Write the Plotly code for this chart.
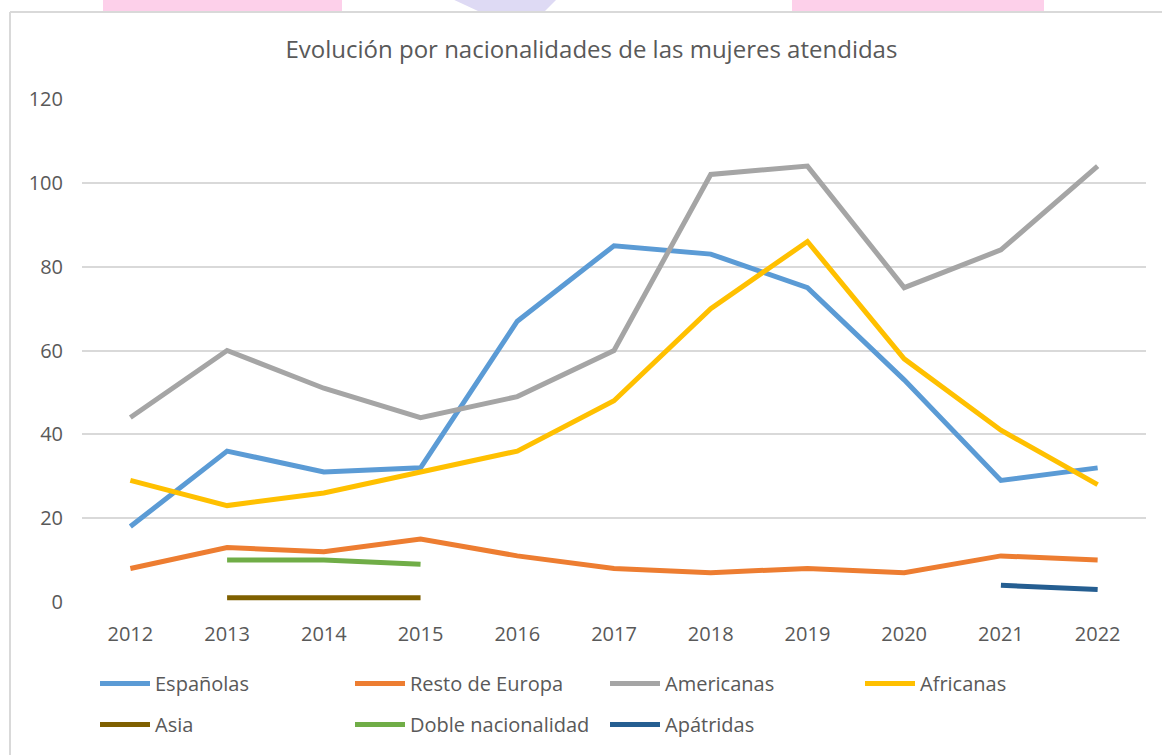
import plotly.graph_objects as go

years = [2012, 2013, 2014, 2015, 2016, 2017, 2018, 2019, 2020, 2021, 2022]
espanolas = [18, 36, 31, 32, 67, 85, 83, 75, 53, 29, 32]
resto_europa = [8, 13, 12, 15, 11, 8, 7, 8, 7, 11, 10]
americanas = [44, 60, 51, 44, 49, 60, 102, 104, 75, 84, 104]
africanas = [29, 23, 26, 31, 36, 48, 70, 86, 58, 41, 28]
asia = [None, 1, 1, 1, None, None, None, None, None, None, None]
doble = [None, 10, 10, 9, None, None, None, None, None, None, None]
apatridas = [None, None, None, None, None, None, None, None, None, 4, 3]

series = [
    ("Españolas", espanolas, "#5B9BD5", "legend"),
    ("Resto de Europa", resto_europa, "#ED7D31", "legend"),
    ("Americanas", americanas, "#A5A5A5", "legend"),
    ("Africanas", africanas, "#FFC000", "legend"),
    ("Asia", asia, "#7F6000", "legend2"),
    ("Doble nacionalidad", doble, "#70AD47", "legend2"),
    ("Apátridas", apatridas, "#255E91", "legend2"),
]

FONT = "Open Sans"
TXT = "#595959"

fig = go.Figure()
for name, vals, col, lg in series:
    fig.add_trace(go.Scatter(
        x=years, y=vals, name=name, mode="lines",
        line=dict(color=col, width=5),
        connectgaps=False, hoverinfo="x+y+name", legend=lg,
    ))

leg_common = dict(orientation="h", xref="container", yref="container",
                  xanchor="left", yanchor="top",
                  entrywidth=190, entrywidthmode="pixels", itemwidth=50,
                  font=dict(family=FONT, size=20, color=TXT),
                  bgcolor="rgba(0,0,0,0)", borderwidth=0)

fig.update_layout(
    width=1162, height=755,
    margin=dict(l=82, r=16, t=99, b=153, autoexpand=False),
    paper_bgcolor="white", plot_bgcolor="white",
    font=dict(family=FONT, color=TXT, size=20),
    title=dict(text="Evolución por nacionalidades de las mujeres atendidas",
               x=0.509, xanchor="center", y=0.934, yanchor="middle",
               font=dict(family=FONT, size=24, color=TXT)),
    xaxis=dict(range=[2011.5, 2022.5], tickmode="array", tickvals=years,
               ticktext=[str(y) for y in years], showgrid=False,
               zeroline=False, showline=False, ticks="",
               ticklabelstandoff=18, tickfont=dict(size=20, color=TXT)),
    yaxis=dict(range=[0, 120], dtick=20, showgrid=True, gridcolor="#D9D9D9",
               gridwidth=1.5, zeroline=False, showline=False, ticks="",
               ticklabelstandoff=18, tickfont=dict(size=20, color=TXT)),
    legend=dict(x=95 / 1162, y=1 - 664 / 755, **leg_common),
    legend2=dict(x=95 / 1162, y=1 - 705 / 755, **leg_common),
    showlegend=True,
)

# page background strips above the chart
px = lambda v: (v - 82) / 1064
py = lambda v: (602 - v) / 503
for x0, x1 in [(103, 342), (792, 1044)]:
    fig.add_shape(type="rect", xref="paper", yref="paper",
                  x0=px(x0), x1=px(x1), y0=py(11), y1=py(-2),
                  fillcolor="#FDD0EA", line=dict(width=0), layer="below")
fig.add_shape(type="path", xref="paper", yref="paper",
              path=f"M{px(450)},{py(-2)} L{px(558)},{py(-2)} L{px(545)},{py(11)} L{px(478)},{py(11)} Z",
              fillcolor="#DEDAF4", line=dict(width=0), layer="below")

# chart area border (top and left visible)
fig.add_shape(type="line", xref="paper", yref="paper", x0=px(10), x1=px(1162),
              y0=py(12), y1=py(12), line=dict(color="#D9D9D9", width=2), layer="above")
fig.add_shape(type="line", xref="paper", yref="paper", x0=px(10), x1=px(10),
              y0=py(12), y1=py(760), line=dict(color="#D9D9D9", width=2), layer="above")

fig.write_html("out.html", config={"displayModeBar": False},
               post_script="document.body.style.margin='0px';")
